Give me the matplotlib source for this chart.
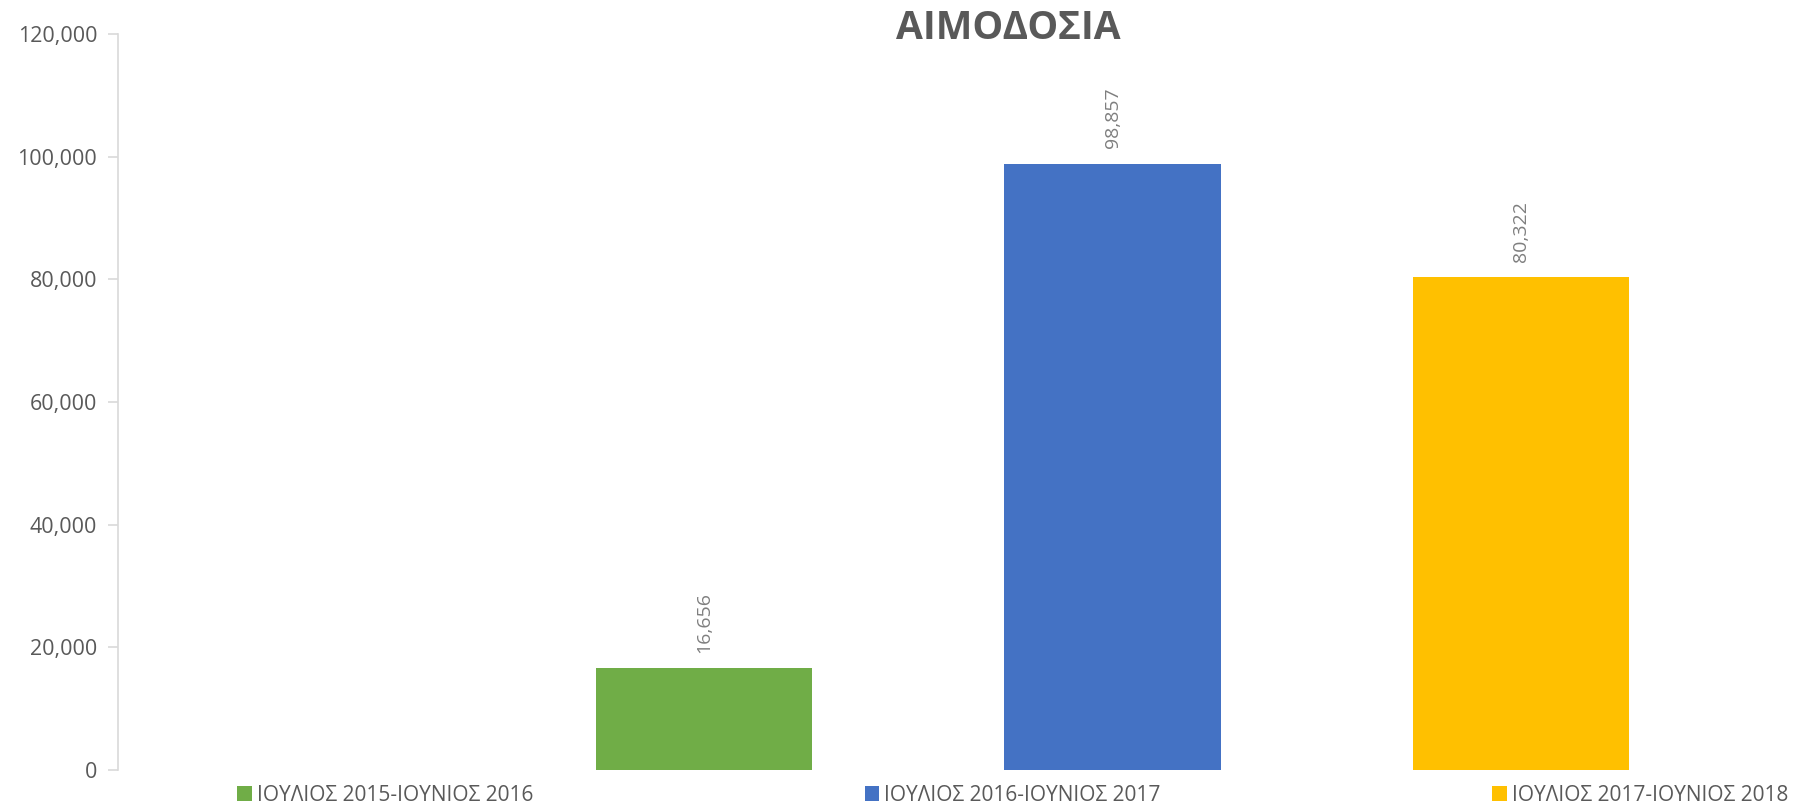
import matplotlib.pyplot as plt
from matplotlib.ticker import FuncFormatter

plt.rcParams['font.family'] = ['Open Sans', 'DejaVu Sans']

# data
periods = ["ΙΟΥΛΙΟΣ 2015-ΙΟΥΝΙΟΣ 2016", "ΙΟΥΛΙΟΣ 2016-ΙΟΥΝΙΟΣ 2017", "ΙΟΥΛΙΟΣ 2017-ΙΟΥΝΙΟΣ 2018"]
values = [16656, 98857, 80322]
colors = ["#70ad47", "#4472c4", "#ffc000"]

fig = plt.figure(figsize=(17.97, 8.08), dpi=100)
ax = fig.add_axes([0.0657, 0.047, 0.9343, 0.911])

for i, (p, v, c) in enumerate(zip(periods, values, colors)):
    ax.bar(i, v, width=0.53, color=c, label=p)
    ax.text(i, v + 2500, f"{v:,}", rotation=90, ha='center', va='bottom',
            fontsize=14, color='#7f7f7f')

ax.set_xlim(-1.435, 2.676)
ax.set_ylim(0, 120000)
ax.set_yticks(range(0, 120001, 20000))
ax.yaxis.set_major_formatter(FuncFormatter(lambda v, _: f"{int(v):,}"))
ax.set_xticks([])

for s in ['top', 'right', 'bottom']:
    ax.spines[s].set_visible(False)
ax.spines['left'].set_color('#d9d9d9')
ax.spines['left'].set_linewidth(1.2)
ax.tick_params(axis='y', colors='#d9d9d9', length=7, width=1.2, labelsize=15.5,
               labelcolor='#595959', pad=8)

fig.text(0.561, 0.965, "ΑΙΜΟΔΟΣΙΑ", ha='center', va='center', fontsize=28,
         fontweight='bold', color='#595959')

fig.legend(loc='center left', bbox_to_anchor=(0.132, 0.016), ncol=3, frameon=False,
           fontsize=15, labelcolor='#595959', handlelength=0.7, handleheight=0.7,
           handletextpad=0.25, columnspacing=15.9, borderpad=0, borderaxespad=0)

fig.savefig("out.png", dpi=100)
